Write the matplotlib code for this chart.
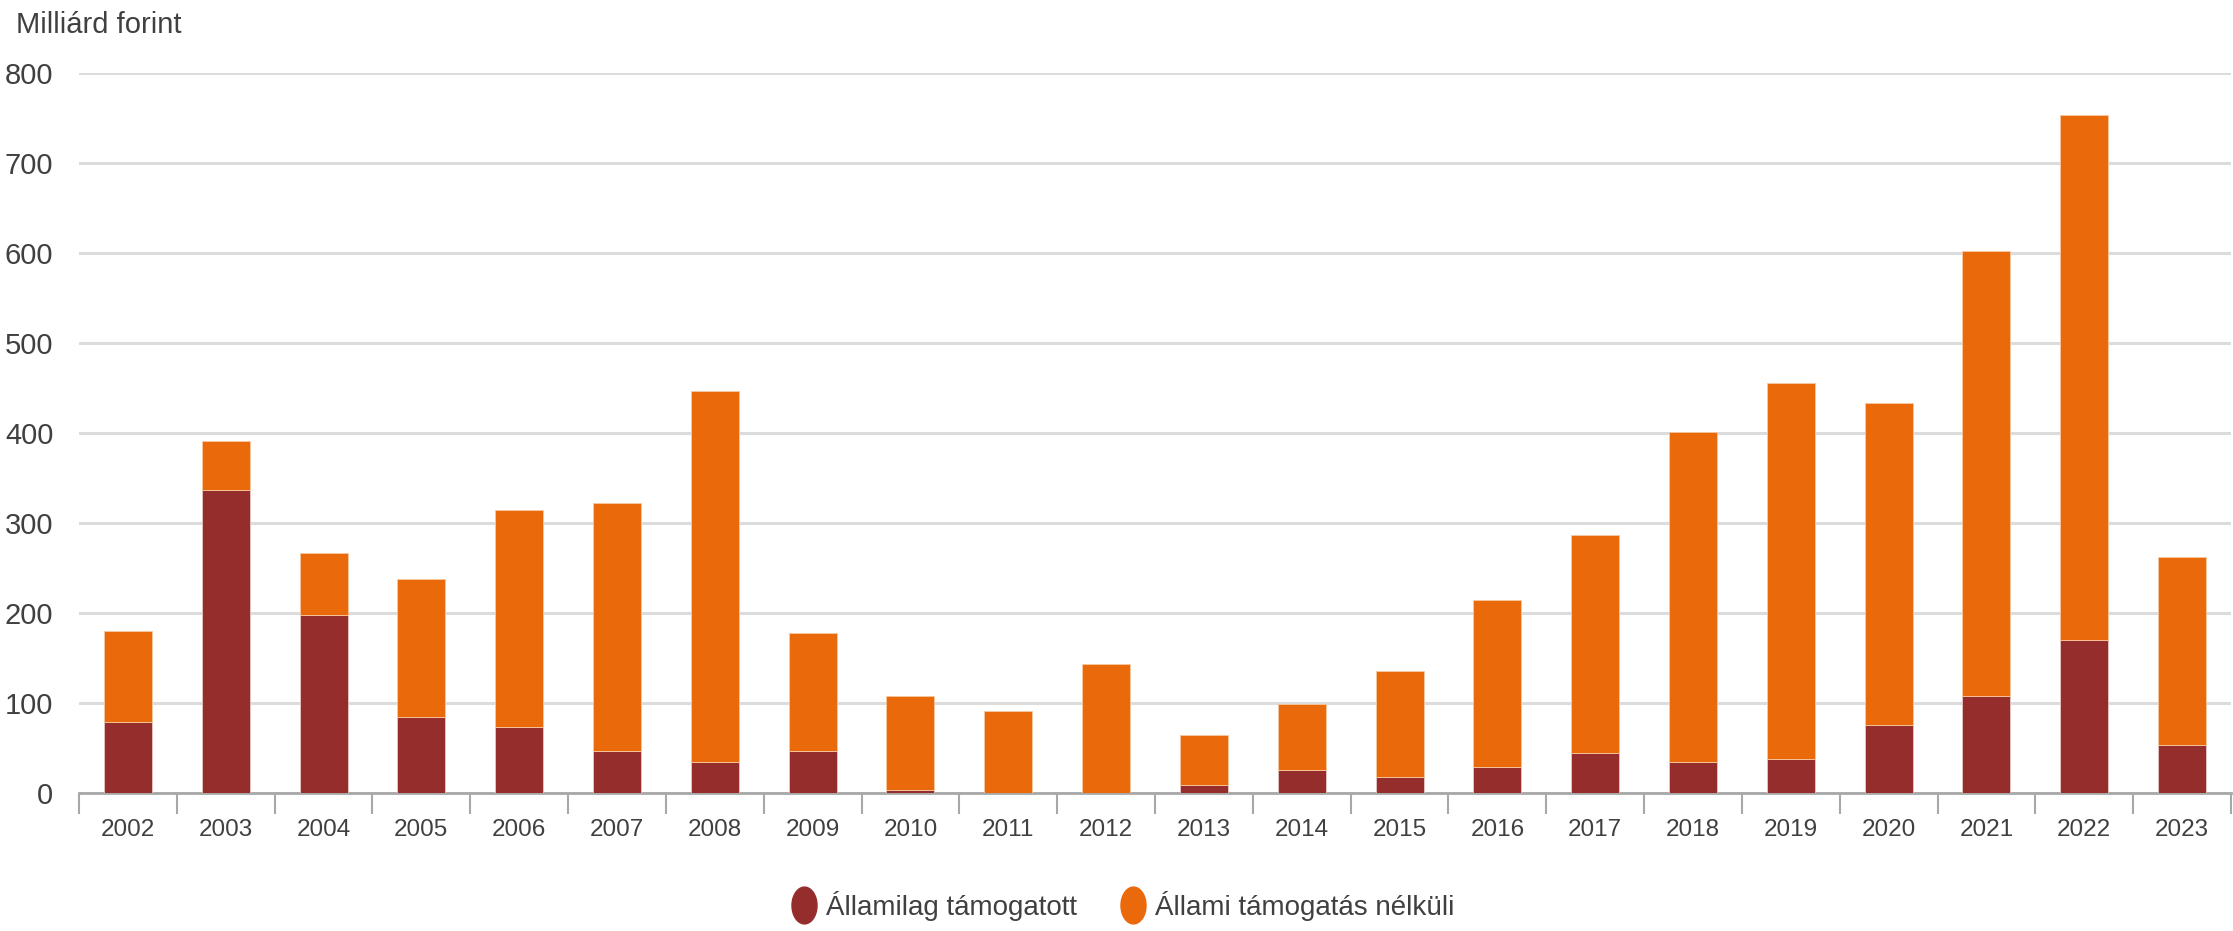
import numpy as np
import matplotlib.pyplot as plt
from matplotlib.path import Path
from matplotlib.lines import Line2D

# adatok, milliárd forint
years = ['2002', '2003', '2004', '2005', '2006', '2007', '2008', '2009', '2010', '2011', '2012',
         '2013', '2014', '2015', '2016', '2017', '2018', '2019', '2020', '2021', '2022', '2023']
total = [180, 391, 267, 238, 314, 322, 447, 178, 108, 91, 143,
         64, 99, 136, 215, 287, 401, 456, 433, 602, 753, 262]
supported = [79, 337, 198, 85, 73, 47, 35, 47, 3, 0.5, 0.5,
             9, 26, 18, 29, 44, 35, 38, 76, 108, 170, 53]
unsupported = [t - s for t, s in zip(total, supported)]

labels = ['Államilag támogatott', 'Állami támogatás nélküli']
c_dark = '#952d2d'
c_orange = '#ea690b'
txt = '#404040'

plt.rcParams['font.family'] = ['Liberation Sans', 'DejaVu Sans']

W, H = 2233, 931
fig = plt.figure(figsize=(W / 100, H / 100), dpi=100)
ax = fig.add_axes([79 / W, 1 - 793 / H, (2231 - 79) / W, (793 - 73) / H])

x = np.arange(len(years))
ax.bar(x, supported, width=0.49, color=c_dark, edgecolor='#e8c8c8', linewidth=0.6, zorder=3)
ax.bar(x, unsupported, bottom=supported, width=0.49, color=c_orange,
       edgecolor='#f8c8a0', linewidth=0.6, zorder=3)

ax.set_ylim(0, 800)
ax.set_xlim(-0.5, len(years) - 0.5)
ax.set_yticks(np.arange(0, 801, 100))
ax.yaxis.grid(True, color='#dcdcdc', linewidth=2.2)
ax.set_axisbelow(True)
ax.tick_params(axis='y', length=0, pad=18.5, labelsize=21, labelcolor=txt)

ax.set_xticks(x)
ax.set_xticklabels(years)
ax.set_xticks(np.arange(-0.5, len(years), 1), minor=True)
ax.tick_params(axis='x', which='major', length=0, pad=19, labelsize=17.5, labelcolor=txt)
ax.tick_params(axis='x', which='minor', length=15, width=1.5, color='#a8a8a8')

for s in ['top', 'right', 'left']:
    ax.spines[s].set_visible(False)
ax.spines['bottom'].set_color('#a8a8a8')
ax.spines['bottom'].set_linewidth(2)

fig.text(16 / W, 1 - 25 / H, 'Milliárd forint', fontsize=21, color=txt, va='center', ha='left')

# ellipszis alakú jelölő a jelmagyarázathoz
t = np.linspace(0, 2 * np.pi, 60)
ellipse = Path(np.column_stack([0.68 * np.cos(t), np.sin(t)]))
handles = [Line2D([], [], linestyle='none', marker=ellipse, markersize=26.5,
                  markerfacecolor=c, markeredgecolor=c) for c in [c_dark, c_orange]]
fig.legend(handles, labels, loc='center', bbox_to_anchor=(1122 / W, 1 - 906 / H), ncol=2,
           frameon=False, fontsize=20, labelcolor=txt, handlelength=1.0, handletextpad=0.3,
           columnspacing=1.5, borderpad=0)

fig.savefig('out.png', dpi=100)
